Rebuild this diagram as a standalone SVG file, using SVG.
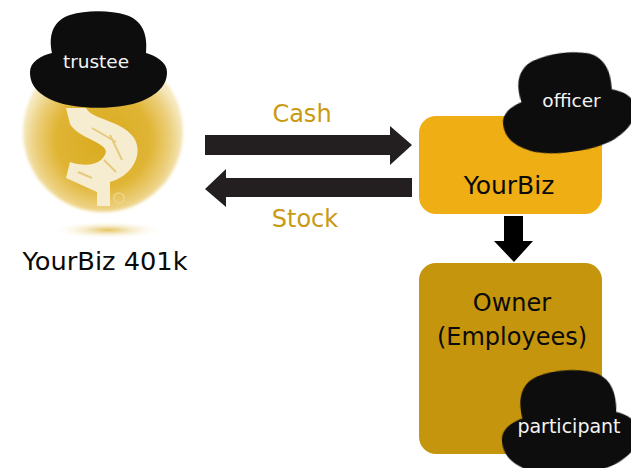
<svg xmlns="http://www.w3.org/2000/svg" width="631" height="468" viewBox="0 0 631 468">
<style>
text{font-family:"DejaVu Sans","Open Sans",sans-serif;text-anchor:middle}
.lab{font-size:24px;fill:#c99a12}
.blk{font-size:24px;fill:#0a0a0a}
.hatlabel{font-size:18.5px;fill:#f4f4f4}
.arrow{fill:#231f20}
</style>
<defs>
<radialGradient id="ball" cx="0.5" cy="0.55" r="0.5">
<stop offset="0" stop-color="#d9aa1e"/>
<stop offset="0.6" stop-color="#e0b535"/>
<stop offset="0.85" stop-color="#ecd07e"/>
<stop offset="1" stop-color="#f6e8bd"/>
</radialGradient>
<radialGradient id="shadow">
<stop offset="0" stop-color="#e3c25c"/>
<stop offset="1" stop-color="#ffffff" stop-opacity="0"/>
</radialGradient>
<filter id="soft" x="-20%" y="-20%" width="140%" height="140%"><feGaussianBlur stdDeviation="0.7"/></filter>
<filter id="soft2" x="-20%" y="-20%" width="140%" height="140%"><feGaussianBlur stdDeviation="1.5"/></filter>
<g id="hat" filter="url(#soft)">
<path fill="#0a0a0c" d="M-68 10C-68 0-58-6-46-9C-50-28-44-42-28-47C-12-52 12-52 28-47C44-42 50-28 48-9C58-6 69 0 69 10C69 22 62 31 44 39C22 48-22 48-44 39C-62 31-68 22-68 10Z"/>
</g>
</defs>

<g id="node-401k">
<circle cx="103" cy="132" r="80" fill="url(#ball)" filter="url(#soft2)"/>
<path d="M66 108L86 108C92 120 122 120 134 138C144 154 132 176 110 182V206H97V192L66 178L70 162C85 167 102 166 106 152C106 142 78 138 70 124Z" fill="#f6ecd0" filter="url(#soft)"/>
<path d="M92 128L116 142M110 135L122 160M104 160L116 172M78 172L92 178" fill="none" stroke="#e6cb7e" stroke-width="2"/>
<circle cx="119" cy="198" r="5" fill="none" stroke="#edd68c" stroke-width="1.5"/>
<ellipse cx="108" cy="230" rx="56" ry="9" fill="url(#shadow)"/>
<use href="#hat" transform="translate(98 62)"/>
<text class="hatlabel" x="96" y="68">trustee</text>
<text class="blk" x="105" y="270" textLength="165" lengthAdjust="spacingAndGlyphs">YourBiz 401k</text>
</g>

<g id="connectors">
<path class="arrow" d="M205 135H390V126L412 145L390 165V155H205Z"/>
<path class="arrow" d="M412 178H226V169L205 189L226 207V197H412Z"/>
<path fill="#000" d="M504 216H523V241H533L514 262L494 241H504Z"/>
</g>

<text class="lab" x="302" y="122">Cash</text>
<text class="lab" x="305" y="227">Stock</text>

<g id="node-yourbiz">
<rect x="419" y="116" width="183" height="98" rx="17" fill="#eeae14"/>
<use href="#hat" transform="translate(567 105) rotate(-8) scale(0.97 1.03)"/>
<text class="hatlabel" x="571.500" y="107">officer</text>
<text class="blk" x="509" y="194" style="font-size:25px">YourBiz</text>
</g>

<g id="node-owner">
<rect x="419" y="263" width="183" height="191" rx="17" fill="#c5950e"/>
<text class="blk" x="512" y="311">Owner</text>
<text class="blk" x="512" y="345">(Employees)</text>
<use href="#hat" transform="translate(569 425) rotate(-4) scale(1 1.08)"/>
<text class="hatlabel" x="569" y="433" style="font-size:19px">participant</text>
</g>
</svg>
